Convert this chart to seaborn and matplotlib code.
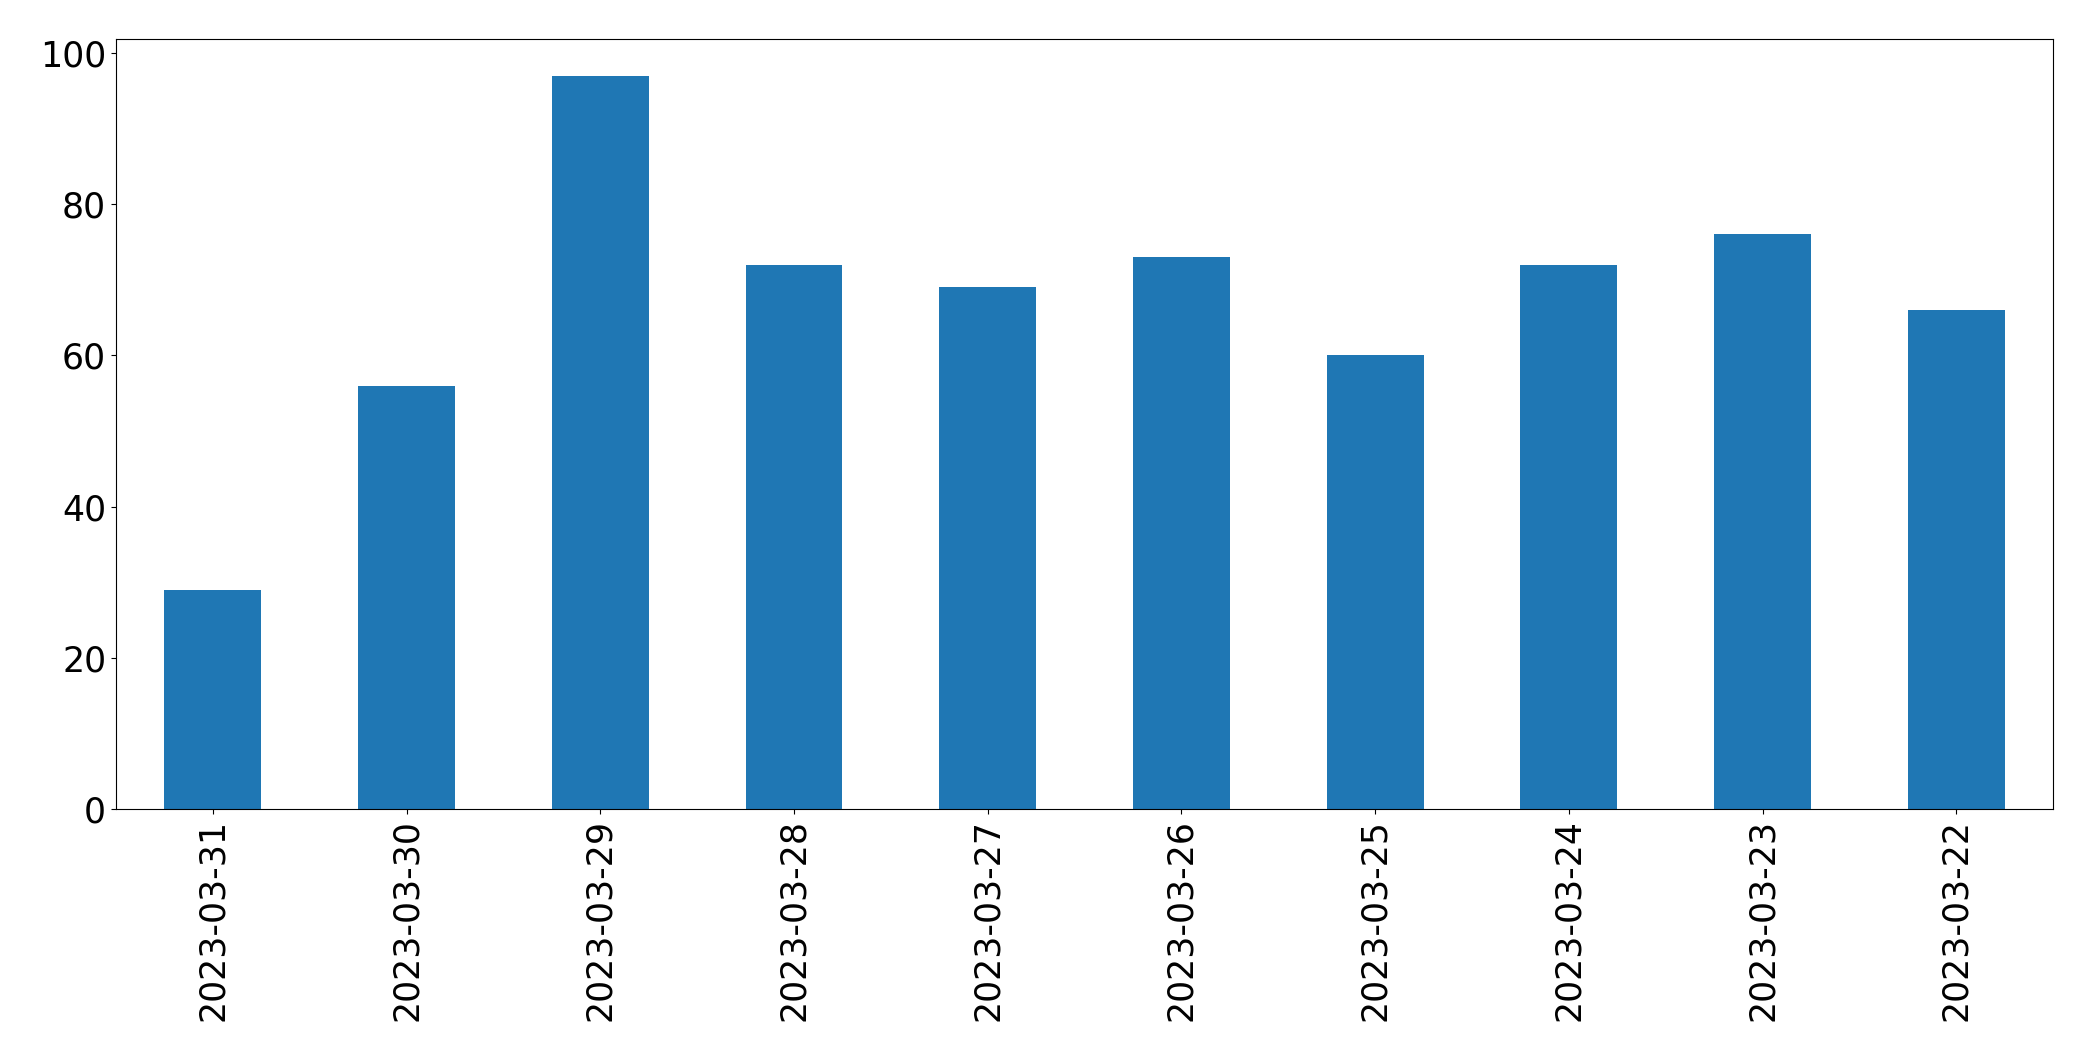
import pandas as pd
import matplotlib
matplotlib.use("Agg")
import matplotlib.pyplot as plt
import seaborn as sns

# daily counts, newest first (as in the original chart)
dates = ['2023-03-31', '2023-03-30', '2023-03-29', '2023-03-28', '2023-03-27',
         '2023-03-26', '2023-03-25', '2023-03-24', '2023-03-23', '2023-03-22']
counts = [29, 56, 97, 72, 69, 73, 60, 72, 76, 66]

df = pd.DataFrame({'date': dates, 'count': counts})

plt.rcParams['font.family'] = ['DejaVu Sans']
fig, ax = plt.subplots(figsize=(20.93, 10.61), dpi=100)
sns.barplot(data=df, x='date', y='count', order=dates, color='#1f77b4',
            saturation=1, width=0.5, linewidth=0, ax=ax)

ax.set_xlim(-0.5, len(dates) - 0.5)
ax.set_ylim(0, max(counts) * 1.05)
ax.set_xlabel('')
ax.set_ylabel('')
ax.tick_params(axis='both', labelsize=25)
ax.tick_params(axis='x', labelrotation=90)
for s in ax.spines.values():
    s.set_color('black')

plt.subplots_adjust(left=0.0554, right=0.981, top=0.9632, bottom=0.2375)
plt.savefig('out.png', dpi=100)
plt.close()
